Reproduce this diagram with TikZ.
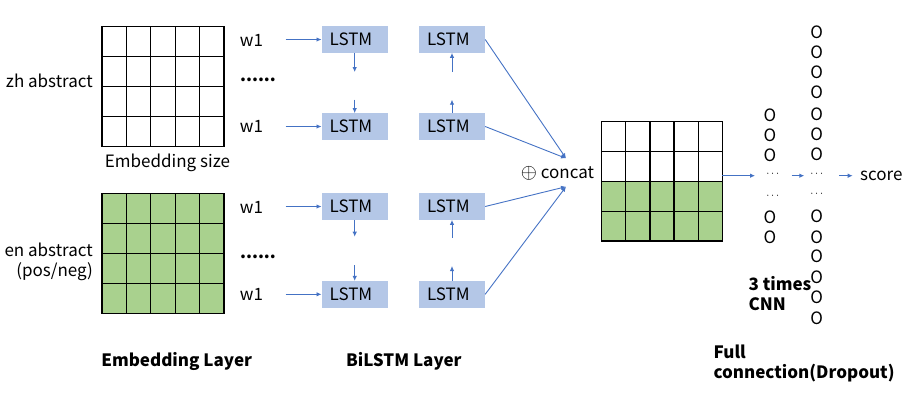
\documentclass[tikz,border=0pt]{standalone}
\usepackage{fontspec}
\setmainfont{Noto Sans CJK SC}
\usetikzlibrary{arrows.meta}
\definecolor{lb}{RGB}{68,114,196}
\definecolor{boxfill}{RGB}{180,199,231}
\definecolor{gfill}{RGB}{169,209,142}
\begin{document}
\begin{tikzpicture}[x=1pt,y=-1pt,
  font=\fontsize{17}{20}\selectfont,
  txt/.style={inner sep=0pt},
  btxt/.style={inner sep=0pt,font=\fontsize{17}{20}\selectfont\bfseries,align=left},
  gline/.style={line width=1.2pt,black},
  lstm/.style={fill=boxfill,minimum height=26.4pt,text width=50pt,inner xsep=8pt,inner ysep=0pt,align=left},
  arr/.style={lb,line width=0.9pt,-{Latex[length=5pt,width=4.5pt]}},
  ln/.style={lb,line width=0.9pt}]
\useasboundingbox (0,0) rectangle (905,402);

% ---------- embedding grids ----------
\node[draw,gline,minimum width=122pt,minimum height=120pt,inner sep=0pt] (zh) at (163,86.3) {};
\foreach \i in {1,2,3,4} \draw[gline] ({102+\i*24.4},26.3) -- ({102+\i*24.4},146.3);
\foreach \j in {1,2,3} \draw[gline] (102,{26.3+\j*30}) -- (224,{26.3+\j*30});

\node[draw,gline,fill=gfill,minimum width=122pt,minimum height=120pt,inner sep=0pt] (en) at (163,253.3) {};
\foreach \i in {1,2,3,4} \draw[gline] ({102+\i*24.4},193.3) -- ({102+\i*24.4},313.3);
\foreach \j in {1,2,3} \draw[gline] (102,{193.3+\j*30}) -- (224,{193.3+\j*30});

\node[txt,anchor=east] (zhl) at (93,81) {zh abstract};
\node[txt] (esz) at (167.5,163) {Embedding size};
\node[txt,anchor=east,align=right] (enl) at (93,262) {en abstract\\(pos/neg)};

% ---------- w1 labels ----------
\node[txt] (w1a) at (251.5,40) {w1};
\node[txt] (dda) at (258,80) {\textbf{......}};
\node[txt] (w1b) at (251.5,126.5) {w1};
\node[txt] (w1c) at (251.5,207) {w1};
\node[txt] (ddb) at (258,257) {\textbf{......}};
\node[txt] (w1d) at (251.5,294.5) {w1};

% ---------- LSTM boxes ----------
\node[lstm] (l11) at (354.7,39.5) {LSTM};
\node[lstm] (l12) at (354.7,126.5) {LSTM};
\node[lstm] (l13) at (354.7,206.5) {LSTM};
\node[lstm] (l14) at (354.7,294.3) {LSTM};
\node[lstm] (l21) at (452,39.5) {LSTM};
\node[lstm] (l22) at (452,126.5) {LSTM};
\node[lstm] (l23) at (452,206.5) {LSTM};
\node[lstm] (l24) at (452,294.3) {LSTM};

\coordinate (a1) at (285.7,39.5);
\coordinate (a2) at (285.7,126.5);
\coordinate (a3) at (285.7,206.5);
\coordinate (a4) at (285.7,294.3);
\draw[arr] (a1) -- (l11);
\draw[arr] (a2) -- (l12);
\draw[arr] (a3) -- (l13);
\draw[arr] (a4) -- (l14);

% vertical arrows
\coordinate (v1) at (354.7,72);
\coordinate (v2) at (354.7,99.7);
\coordinate (v3) at (354.7,236.7);
\coordinate (v4) at (354.7,265);
\draw[arr] (l11.south) -- (v1);
\draw[arr] (v2) -- (l12.north);
\draw[arr] (l13.south) -- (v3);
\draw[arr] (v4) -- (l14.north);

\coordinate (u1) at (452,72);
\coordinate (u2) at (452,99.7);
\coordinate (u3) at (452,237.7);
\coordinate (u4) at (452,266);
\draw[arr] (u1) -- (l21.south);
\draw[arr] (l22.north) -- (u2);
\draw[arr] (u3) -- (l23.south);
\draw[arr] (l24.north) -- (u4);

% ---------- concat ----------
\node[txt] (cc) at (557.5,173.3) {{\fontsize{22}{22}\selectfont$\oplus$} concat};
\coordinate (ct) at (566,158.3);
\coordinate (cb) at (566,186.7);
\draw[arr] (l21.east) -- (ct);
\draw[arr] (l22.east) -- (ct);
\draw[arr] (l23.east) -- (cb);
\draw[arr] (l24.east) -- (cb);

\fill[gfill] (601.7,181.3) rectangle (722.3,241);
\node[draw,gline,minimum width=120.6pt,minimum height=119.3pt,inner sep=0pt] (cg) at (662,181.35) {};
\foreach \i in {1,2,3,4} \draw[gline] ({601.7+\i*24.12},121.7) -- ({601.7+\i*24.12},241);
\foreach \j in {1,2,3} \draw[gline] (601.7,{121.7+\j*29.83}) -- (722.3,{121.7+\j*29.83});

\coordinate (cgo) at (722.3,175.7);
\coordinate (c1in) at (755,175.7);
\draw[arr] (cgo) -- (c1in);

% ---------- CNN column ----------
\foreach \n/\y in {1/115.3,2/135.7,3/155.3,4/217.3,5/237.7}
  \node[txt] (p\n) at (770,\y) {O};
\node[txt,font=\fontsize{11}{12}\selectfont] (pd1) at (772.7,174.3) {$\cdots$};
\node[txt,font=\fontsize{11}{12}\selectfont] (pd2) at (772.7,196) {$\cdots$};

% ---------- full connection column ----------
\foreach \n/\y in {1/32,2/52.3,3/72.7,4/92.7,5/114.7,6/134.7,7/154.7,8/216.7,9/237,10/256.7,11/277,12/297.3,13/318}
  \node[txt] (q\n) at (816.7,\y) {O};
\node[txt,font=\fontsize{11}{12}\selectfont] (qd1) at (816.7,174.3) {$\cdots$};
\node[txt,font=\fontsize{11}{12}\selectfont] (qd2) at (816.7,194) {$\cdots$};

\coordinate (b1) at (791.7,175.7);
\coordinate (b2) at (804.3,175.7);
\draw[arr] (b1) -- (b2);
\coordinate (s1) at (839.3,175.7);
\coordinate (s2) at (852.7,175.7);
\draw[arr] (s1) -- (s2);
\node[txt,anchor=west] (score) at (860,176) {score};

% ---------- bold captions ----------
\node[btxt,anchor=west] (cnn) at (748.3,293.3) {3 times\\CNN};
\node[btxt,anchor=west] (fc) at (713.3,363.3) {Full\\connection(Dropout)};
\node[btxt] (el) at (176.7,361) {Embedding Layer};
\node[btxt] (bl) at (403.8,361) {BiLSTM Layer};
\end{tikzpicture}
\end{document}
